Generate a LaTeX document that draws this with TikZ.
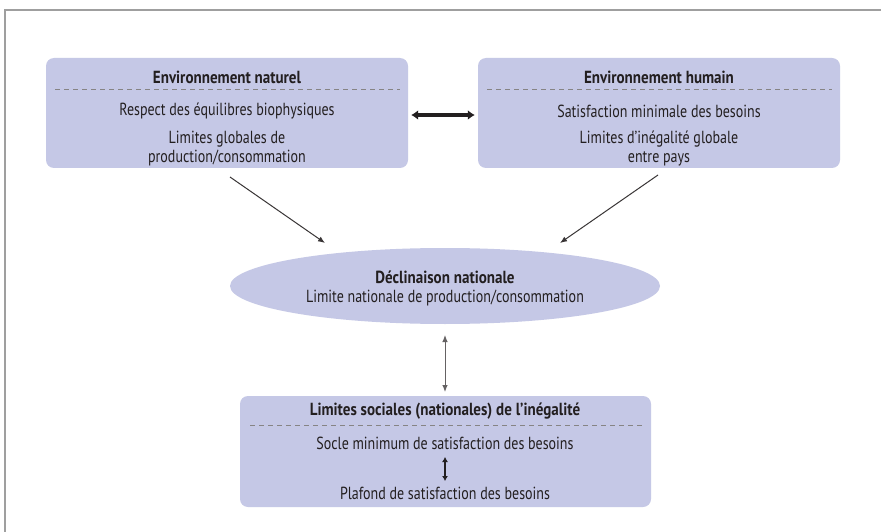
\documentclass[tikz,border=0pt]{standalone}
\usepackage{fontspec}
\setmainfont{PT Sans}[FakeStretch=0.8, BoldFeatures={FakeStretch=0.86}]
\usetikzlibrary{arrows.meta,shapes.geometric}
\definecolor{boxfill}{RGB}{197,200,230}
\definecolor{ink}{RGB}{35,31,32}
\tikzset{
  panel/.style={fill=boxfill, rounded corners=8pt, draw=none},
  txt/.style={text=ink, font=\fontsize{17.5}{19}\selectfont, align=center, inner sep=0pt},
  ttl/.style={txt, font=\fontsize{17.5}{19}\selectfont\bfseries},
  sep/.style={draw=ink!55, line width=0.7pt, dash pattern=on 5pt off 4pt},
  thin/.style={draw=ink!90, line width=1pt, -{Latex[length=7pt,width=5.5pt]}},
  both/.style={draw=ink!70, line width=1pt, {Latex[length=7pt,width=5.5pt]}-{Latex[length=7pt,width=5.5pt]}},
  thick/.style={draw=ink, line width=3.2pt, {Latex[length=7pt,width=10pt]}-{Latex[length=7pt,width=10pt]}}
}
\begin{document}
\begin{tikzpicture}[x=1pt,y=-1pt]
\useasboundingbox (0,0) rectangle (881,532);
\fill[white] (0,0) rectangle (881,532);
\draw[gray!75, line width=2pt] (5,533) -- (5,10) -- (882,10);
% left box
\path[panel] (46,58) rectangle (408,168);
\node[inner sep=0pt, minimum width=362pt, minimum height=110pt] (L) at (227,113) {};
\node[ttl] (ln) at (227,77) {Environnement naturel};
\draw[sep] (55,89) -- (400,89);
\node[txt] (l1) at (227,111) {Respect des équilibres biophysiques};
\node[txt] (l2) at (227,148.5) {Limites globales de\\production/consommation};
% right box
\path[panel] (478,58) rectangle (840,168);
\node[inner sep=0pt, minimum width=362pt, minimum height=110pt] (R) at (659,113) {};
\node[ttl] (rn) at (659,77) {Environnement humain};
\draw[sep] (487,89) -- (832,89);
\node[txt] (r1) at (659,111) {Satisfaction minimale des besoins};
\node[txt] (r2) at (659,148.5) {Limites d’inégalité globale\\entre pays};
% ellipse
\node[ellipse, fill=boxfill, minimum width=430pt, minimum height=76pt, inner sep=0pt] (E) at (445,286) {};
\node[ttl] (e1) at (445,277) {Déclinaison nationale};
\node[txt] (e2) at (445,298) {Limite nationale de production/consommation};
% bottom box
\path[panel] (240,396) rectangle (651,507);
\node[inner sep=0pt, minimum width=411pt, minimum height=111pt] (B) at (445.5,451.5) {};
\node[ttl] (b1) at (445,411) {Limites sociales (nationales) de l’inégalité};
\draw[sep] (250,425) -- (642,425);
\node[txt] (b2) at (445,443) {Socle minimum de satisfaction des besoins};
\node[txt] (b3) at (445,493) {Plafond de satisfaction des besoins};
% connectors
\coordinate (la) at (230,177);
\coordinate (lb) at (325,243);
\coordinate (ra) at (658,175);
\coordinate (rb) at (560,243);
\draw[thin] (la) -- (lb);
\draw[thin] (ra) -- (rb);
\draw[thick] ([xshift=3pt]L.east |- 0,115) -- ([xshift=-3pt]R.west |- 0,115);
\coordinate (va) at (445,335);
\coordinate (vb) at (445,392);
\draw[both] (va) -- (vb);
\coordinate (ia) at (445,457);
\coordinate (ib) at (445,481);
\draw[draw=ink, line width=1.8pt, {Latex[length=5pt,width=6pt]}-{Latex[length=5pt,width=6pt]}] (ia) -- (ib);
\end{tikzpicture}
\end{document}
